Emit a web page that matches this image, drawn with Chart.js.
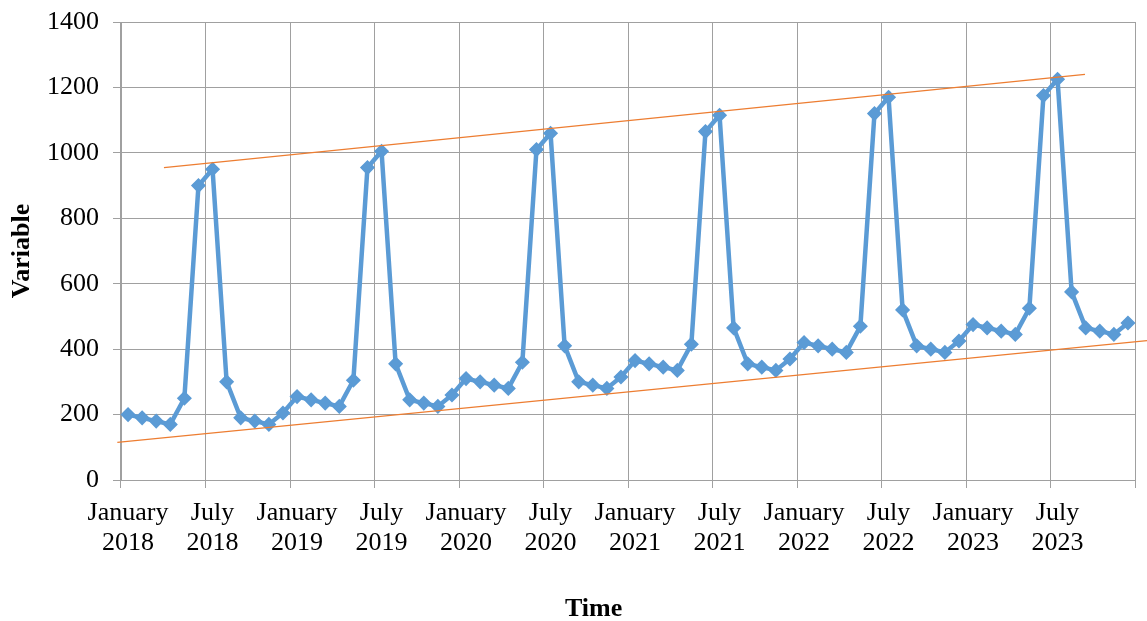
<!DOCTYPE html>
<html>
<head>
<meta charset="utf-8">
<script src="https://cdn.jsdelivr.net/npm/chart.js@4"></script>
<style>
  html, body { margin: 0; padding: 0; background: #ffffff; }
  #wrap { width: 1147px; height: 621px; }
</style>
</head>
<body>
<div id="wrap"><canvas id="chart" width="1147" height="621"></canvas></div>
<script>
// --- data ---
const months = ['January', 'February', 'March', 'April', 'May', 'June',
                'July', 'August', 'September', 'October', 'November', 'December'];
const years = ['2018', '2019', '2020', '2021', '2022', '2023'];

const values = [
  200, 190, 180, 170, 250, 900, 950, 300, 190, 180, 170, 205,   // 2018
  255, 245, 235, 225, 305, 955, 1005, 355, 245, 235, 225, 260,  // 2019
  310, 300, 290, 280, 360, 1010, 1060, 410, 300, 290, 280, 315, // 2020
  365, 355, 345, 335, 415, 1065, 1115, 465, 355, 345, 335, 370, // 2021
  420, 410, 400, 390, 470, 1120, 1170, 520, 410, 400, 390, 425, // 2022
  475, 465, 455, 445, 525, 1175, 1225, 575, 465, 455, 445, 480  // 2023
];

// envelope lines (x in month index, y in value units)
const upperLine = [{ x: 2.55, y: 955 }, { x: 67.95, y: 1240 }];
const lowerLine = [{ x: -0.76, y: 115 }, { x: 72.35, y: 426 }];

const yTicks = [0, 200, 400, 600, 800, 1000, 1200, 1400];
const xTitle = 'Time';
const yTitle = 'Variable';

// --- build categories ---
const labels = [];
years.forEach(y => months.forEach(m => labels.push([m, y])));

const serif = '"Liberation Serif", "Times New Roman", serif';
const gridGray = '#a0a0a0';
const blue = '#5b9bd5';
const orange = '#ed7d31';

const everySix = ctx => (ctx.index === undefined || ctx.index % 6 === 0) ? gridGray : 'rgba(0,0,0,0)';

// x title sits left of the plot centre in the original, so draw it by hand
const xTitlePlugin = {
  id: 'xTitle',
  afterDraw(chart) {
    const c = chart.ctx;
    c.save();
    c.font = 'bold 26px ' + serif;
    c.fillStyle = '#000000';
    c.textAlign = 'center';
    c.textBaseline = 'middle';
    c.fillText(xTitle, chart.chartArea.left + (chart.chartArea.right - chart.chartArea.left) * 0.466, 609);
    c.restore();
  }
};

new Chart(document.getElementById('chart'), {
  type: 'line',
  data: {
    labels: labels,
    datasets: [
      {
        label: yTitle,
        data: values,
        xAxisID: 'x',
        borderColor: blue,
        backgroundColor: blue,
        borderWidth: 4.5,
        pointStyle: 'rectRot',
        pointRadius: 6.5,
        pointBorderWidth: 1.5,
        tension: 0,
        order: 2
      },
      {
        label: 'upper',
        data: upperLine,
        xAxisID: 'xt',
        borderColor: orange,
        borderWidth: 1.3,
        pointRadius: 0,
        clip: false,
        order: 1
      },
      {
        label: 'lower',
        data: lowerLine,
        xAxisID: 'xt',
        borderColor: orange,
        borderWidth: 1.3,
        pointRadius: 0,
        clip: false,
        order: 1
      }
    ]
  },
  plugins: [xTitlePlugin],
  options: {
    responsive: false,
    animation: false,
    layout: { padding: { top: 22, right: 12, left: 0, bottom: 0 } },
    plugins: {
      legend: { display: false },
      tooltip: { enabled: false }
    },
    scales: {
      x: {
        type: 'category',
        offset: true,
        grid: {
          offset: true,
          color: everySix,
          lineWidth: 1,
          tickLength: 8
        },
        border: { color: gridGray },
        ticks: {
          autoSkip: false,
          maxRotation: 0,
          minRotation: 0,
          padding: 11,
          color: '#000000',
          font: { family: serif, size: 26, lineHeight: 1.12 },
          callback: function (val, i) {
            return i % 6 === 0 ? [months[i % 12], years[Math.floor(i / 12)]] : '';
          }
        },
        title: { display: false },
        afterFit: s => { s.height = 141; s.paddingLeft = 0; s.paddingRight = 0; }
      },
      xt: {
        type: 'linear',
        display: false,
        min: -0.5,
        max: labels.length - 0.5
      },
      y: {
        min: 0,
        max: 1400,
        afterBuildTicks: s => { s.ticks = yTicks.map(v => ({ value: v })); },
        grid: { color: gridGray, lineWidth: 1, tickLength: 8 },
        border: { color: gridGray },
        ticks: {
          padding: 14,
          color: '#000000',
          font: { family: serif, size: 26 },
          callback: v => String(v)
        },
        title: {
          display: true,
          text: yTitle,
          color: '#000000',
          font: { family: serif, size: 26, weight: 'bold', lineHeight: 1.0 },
          padding: { top: 9, bottom: 0 }
        },
        afterFit: s => { s.width = 121; s.paddingTop = 0; s.paddingBottom = 0; }
      }
    }
  }
});
</script>
</body>
</html>
